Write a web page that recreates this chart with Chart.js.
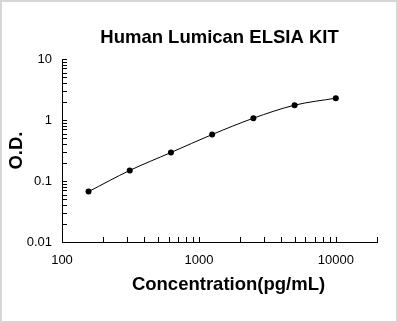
<!DOCTYPE html>
<html>
<head>
<meta charset="utf-8">
<script src="https://cdn.jsdelivr.net/npm/chart.js@4.4.1/dist/chart.umd.min.js"></script>
<style>
  html, body { margin: 0; padding: 0; background: #fff; }
  #box { width: 398px; height: 323px; box-sizing: border-box; border: 2px solid #d6d6d6; }
  #box canvas { display: block; }
</style>
</head>
<body>
<div id="box"><canvas id="chart" width="394" height="319"></canvas></div>
<script>
// concentrations (pg/mL) and measured O.D.
const concentrations = [156.25, 312.5, 625, 1250, 2500, 5000, 10000];
const odValues = [0.067, 0.149, 0.293, 0.578, 1.07, 1.75, 2.28];
const xLabels = [100, 1000, 10000];
const yLabels = [0.01, 0.1, 1, 10];

const FONT = "'Liberation Sans', Arial, sans-serif";

function isLabel(list, v) {
    return list.some(l => Math.abs(Math.log10(v) - Math.log10(l)) < 1e-6);
}

// small inward ticks at 1..9 x 10^k
const innerTicks = {
    id: 'innerTicks',
    afterDraw(chart) {
        const ctx = chart.ctx;
        const area = chart.chartArea;
        const len = 5;
        ctx.save();
        ctx.strokeStyle = '#000';
        ctx.lineWidth = 1;
        ['x', 'y'].forEach(id => {
            const s = chart.scales[id];
            for (let k = Math.floor(Math.log10(s.min)); k <= Math.ceil(Math.log10(s.max)); k++) {
                for (let m = 1; m <= 9; m++) {
                    const v = m * Math.pow(10, k);
                    if (v < s.min * 0.999 || v > s.max * 1.001) continue;
                    const p = Math.round(s.getPixelForValue(v)) + 0.5;
                    ctx.beginPath();
                    if (id === 'x') {
                        ctx.moveTo(p, area.bottom);
                        ctx.lineTo(p, area.bottom - len);
                    } else {
                        ctx.moveTo(area.left, p);
                        ctx.lineTo(area.left + len, p);
                    }
                    ctx.stroke();
                }
            }
        });
        // x axis title, a little right of centre like the original
        ctx.fillStyle = '#000';
        ctx.font = 'bold 18.5px ' + FONT;
        ctx.textAlign = 'center';
        ctx.textBaseline = 'middle';
        ctx.fillText('Concentration(pg/mL)', (area.left + area.right) / 2 + 9, 283);
        ctx.restore();
    }
};

const ctx = document.getElementById('chart').getContext('2d');
new Chart(ctx, {
    type: 'line',
    data: {
        datasets: [{
            data: concentrations.map((c, i) => ({x: c, y: odValues[i]})),
            borderColor: '#000',
            borderWidth: 1,
            backgroundColor: '#000',
            pointRadius: 3,
            pointBackgroundColor: '#000',
            pointBorderWidth: 0,
            cubicInterpolationMode: 'monotone',
            fill: false
        }]
    },
    options: {
        responsive: false,
        animation: false,
        layout: {padding: {left: 0, right: 19, top: 0, bottom: 0}},
        plugins: {
            legend: {display: false},
            tooltip: {enabled: false},
            title: {
                display: true,
                text: 'Human Lumican ELSIA KIT',
                color: '#000',
                fullSize: false,
                font: {family: FONT, size: 18.5, weight: 'bold'},
                padding: {top: 25, bottom: 9.8}
            }
        },
        scales: {
            x: {
                type: 'logarithmic',
                min: 100,
                max: 20000,
                afterFit: s => { s.height = 79; },
                grid: {display: false, drawTicks: false},
                border: {display: true, color: '#000', width: 1},
                ticks: {
                    autoSkip: false,
                    maxRotation: 0,
                    padding: 11,
                    color: '#000',
                    font: {family: FONT, size: 13},
                    callback: v => isLabel(xLabels, v) ? String(Math.round(v)) : ''
                }
            },
            y: {
                type: 'logarithmic',
                min: 0.01,
                max: 10,
                afterFit: s => { s.width = 60; },
                grid: {display: false, drawTicks: false},
                border: {display: true, color: '#000', width: 1},
                title: {
                    display: true,
                    text: 'O.D.',
                    color: '#000',
                    font: {family: FONT, size: 18.5, weight: 'bold'},
                    padding: {top: 4, bottom: 0}
                },
                ticks: {
                    autoSkip: false,
                    padding: 10,
                    color: '#000',
                    font: {family: FONT, size: 13},
                    callback: v => isLabel(yLabels, v) ? String(Number(v.toPrecision(1))) : ''
                }
            }
        }
    },
    plugins: [innerTicks]
});
</script>
</body>
</html>
